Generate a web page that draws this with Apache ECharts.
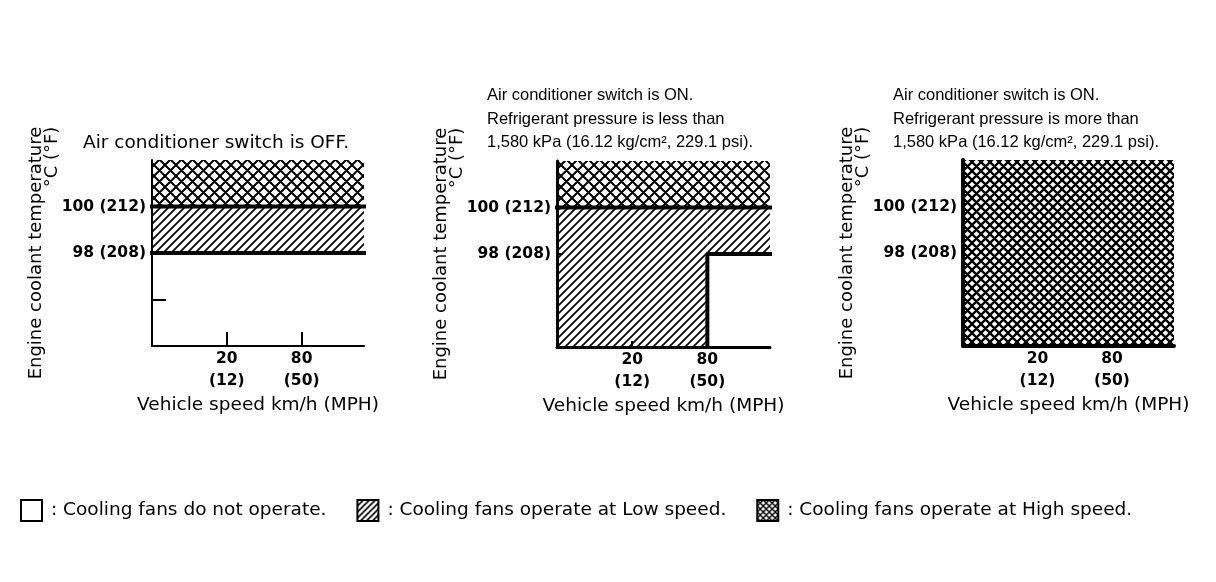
<!DOCTYPE html>
<html><head><meta charset="utf-8">
<script src="https://cdn.jsdelivr.net/npm/echarts@6/dist/echarts.min.js"></script>
<style>html,body{margin:0;padding:0;background:#fff}#c{width:1216px;height:582px}</style>
</head><body><div id="c"></div>
<script>
// ---------------- data ----------------
const speedTicksKmh = [20, 80];
const speedTicksMph = [12, 50];
const tempTicksC = [98, 100];
const tempTicksF = [208, 212];
const speedExtent = [-40, 130];   // schematic speed axis range, km/h
const tempExtent = [94, 102];     // °C
const panelTitles = [
  'Air conditioner switch is OFF.',
  'Air conditioner switch is ON.\nRefrigerant pressure is less than\n1,580 kPa (16.12 kg/cm², 229.1 psi).',
  'Air conditioner switch is ON.\nRefrigerant pressure is more than\n1,580 kPa (16.12 kg/cm², 229.1 psi).'
];
const modeNames = ['Cooling fans do not operate.', 'Cooling fans operate at Low speed.', 'Cooling fans operate at High speed.'];
const yName = 'Engine coolant temperature';
const yUnit = '°C (°F)';
const xName = 'Vehicle speed km/h (MPH)';
// regions: [speedFrom, speedTo, tempFrom, tempTo]
const offRegions = [
  [[-40, 130, 94, 98]],
  [[80, 130, 94, 98]],
  []
];
const lowRegions = [
  [[-40, 130, 98, 100]],
  [[-40, 80, 94, 100], [80, 130, 98, 100]],
  []
];
const highRegions = [
  [[-40, 130, 100, 102]],
  [[-40, 130, 100, 102]],
  [[-40, 130, 94, 102]]
];
// switching boundaries: polylines of [speed, temp]
const boundaries = [
  [[[-40, 100], [130, 100]], [[-40, 98], [130, 98]]],
  [[[-40, 100], [130, 100]], [[80, 94], [80, 98], [130, 98]]],
  []
];
const yTickValues = [[96, 98, 100], [98], []];
const xTickValues = [[20, 80], [20], []];

// ---------------- layout / style ----------------
const grids = [
  {left: 152, top: 160, width: 212, height: 186},
  {left: 557, top: 161, width: 213, height: 186},
  {left: 963, top: 160, width: 211, height: 186}
];
const axisWidths = [2, 3, 4];
const tickLens = [14, 6, 0];
const titlePos = [
  {left: 83, top: 132, font: 'DejaVu Sans', size: 18.5},
  {left: 487, top: 84, font: 'Liberation Sans', size: 16.5},
  {left: 893, top: 84, font: 'Liberation Sans', size: 16.5}
];

function makeHatch(period, lw, cross) {
  const c = document.createElement('canvas');
  c.width = c.height = period;
  const ctx = c.getContext('2d');
  ctx.fillStyle = '#fff'; ctx.fillRect(0, 0, period, period);
  ctx.strokeStyle = '#000'; ctx.lineWidth = lw;
  ctx.beginPath();
  for (let k = 0; k <= 2; k++) { ctx.moveTo(-2, k * period + 2); ctx.lineTo(period + 2, k * period - period - 2); }
  if (cross) for (let k = -1; k <= 1; k++) { ctx.moveTo(-2, k * period - 2); ctx.lineTo(period + 2, k * period + period + 2); }
  ctx.stroke();
  return {image: c, repeat: 'repeat'};
}
const lowPat = makeHatch(8, 1.7, false);
const highPat = makeHatch(11, 2, true);
const highPatDense = makeHatch(9, 2.3, true);
const highFills = [highPat, highPat, highPatDense];

function regionSeries(name, regions, gi, fill) {
  return {
    type: 'custom', name, xAxisIndex: gi, yAxisIndex: gi, data: regions, clip: true, z: 1, silent: true,
    itemStyle: {color: fill},
    renderItem: (params, api) => {
      const a = api.coord([api.value(0), api.value(3)]);
      const b = api.coord([api.value(1), api.value(2)]);
      return {type: 'rect', shape: {x: a[0], y: a[1], width: b[0] - a[0], height: b[1] - a[1]}, style: {fill: fill}};
    }
  };
}

const series = [];
const xAxes = [], yAxes = [];
grids.forEach((g, gi) => {
  series.push(regionSeries(modeNames[0], offRegions[gi], gi, '#fff'));
  series.push(regionSeries(modeNames[1], lowRegions[gi], gi, lowPat));
  series.push(regionSeries(modeNames[2], highRegions[gi], gi, highFills[gi]));
  boundaries[gi].forEach(seg => series.push({
    type: 'line', xAxisIndex: gi, yAxisIndex: gi, data: seg, symbol: 'none', silent: true, z: 3,
    lineStyle: {color: '#000', width: 4, cap: 'square'}
  }));
  xAxes.push({
    gridIndex: gi, type: 'value', min: speedExtent[0], max: speedExtent[1], z: 5,
    splitLine: {show: false},
    axisLine: {show: true, onZero: false, lineStyle: {color: '#000', width: axisWidths[gi]}},
    axisTick: {show: tickLens[gi] > 0, inside: true, length: tickLens[gi], customValues: xTickValues[gi], lineStyle: {color: '#000', width: 2}},
    axisLabel: {
      customValues: speedTicksKmh, margin: 2, color: '#000', fontFamily: 'DejaVu Sans', fontWeight: 'bold', fontSize: 15.5, lineHeight: 22,
      formatter: v => { const i = speedTicksKmh.indexOf(v); return i < 0 ? '' : speedTicksKmh[i] + '\n(' + speedTicksMph[i] + ')'; }
    },
    name: xName, nameLocation: 'middle', nameGap: 50, nameMoveOverlap: false,
    nameTextStyle: {fontFamily: 'DejaVu Sans', fontSize: 18.5, color: '#000'}
  });
  yAxes.push({
    gridIndex: gi, type: 'value', min: tempExtent[0], max: tempExtent[1], z: 5,
    splitLine: {show: false},
    axisLine: {show: true, onZero: false, lineStyle: {color: '#000', width: axisWidths[gi]}},
    axisTick: {show: tickLens[gi] > 0, inside: true, length: tickLens[gi], customValues: yTickValues[gi], lineStyle: {color: '#000', width: 2}},
    axisLabel: {
      customValues: tempTicksC, margin: 6, color: '#000', fontFamily: 'DejaVu Sans', fontWeight: 'bold', fontSize: 15.5,
      formatter: v => { const i = tempTicksC.indexOf(v); return i < 0 ? '' : tempTicksC[i] + ' (' + tempTicksF[i] + ')'; }
    },
    name: '{a|' + yName + '}\n{b|' + yUnit + '}', nameLocation: 'middle', nameRotate: 90, nameGap: 92, nameMoveOverlap: false,
    nameTextStyle: {
      fontFamily: 'DejaVu Sans', fontSize: 18, color: '#000',
      rich: {
        a: {fontFamily: 'DejaVu Sans', fontSize: 18, lineHeight: 16, color: '#000'},
        b: {fontFamily: 'DejaVu Sans', fontSize: 18, lineHeight: 16, color: '#000', align: 'right'}
      }
    }
  });
});

const chart = echarts.init(document.getElementById('c'), null, {renderer: 'canvas'});
chart.setOption({
  backgroundColor: '#fff',
  animation: false,
  title: panelTitles.map((t, i) => ({
    text: t, left: titlePos[i].left, top: titlePos[i].top, padding: 0,
    textStyle: {fontFamily: titlePos[i].font, fontSize: titlePos[i].size, fontWeight: 'normal', color: '#000', lineHeight: i === 0 ? 22 : 23.5}
  })),
  grid: grids,
  xAxis: xAxes,
  yAxis: yAxes,
  legend: {
    left: 20, top: 499, itemWidth: 21, itemHeight: 21, itemGap: 30, icon: 'rect', selectedMode: false, padding: 0,
    data: [
      {name: modeNames[0], itemStyle: {color: '#fff', borderColor: '#000', borderWidth: 2}},
      {name: modeNames[1], itemStyle: {color: makeHatch(6, 1.6, false), borderColor: '#000', borderWidth: 2}},
      {name: modeNames[2], itemStyle: {color: makeHatch(6, 1.4, true), borderColor: '#000', borderWidth: 2}}
    ],
    formatter: n => ': ' + n,
    textStyle: {fontFamily: 'DejaVu Sans', fontSize: 18.5, color: '#000', padding: [0, 0, 0, 4]}
  },
  series
});
</script></body></html>
